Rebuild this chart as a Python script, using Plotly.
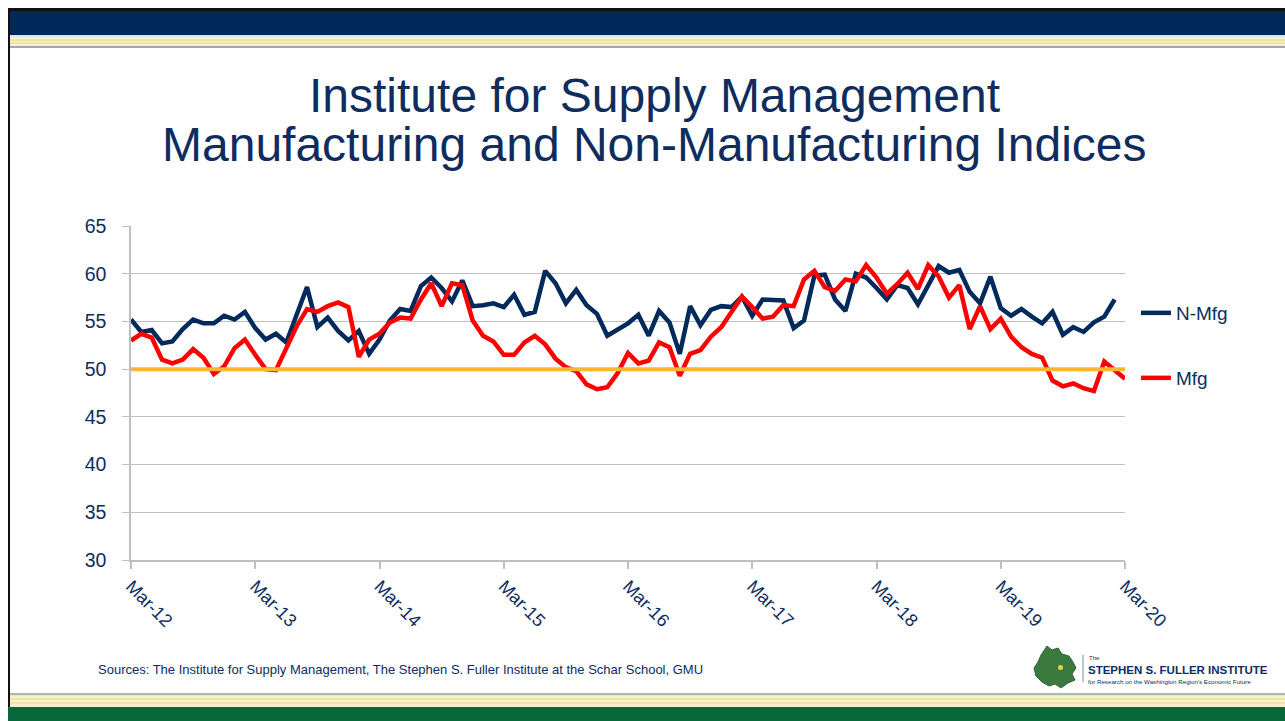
import plotly.graph_objects as go
import pandas as pd

# ---------------- data ----------------
months = list(pd.period_range("2012-03", "2020-03", freq="M").strftime("%b-%y"))
tick_labels = ["Mar-12", "Mar-13", "Mar-14", "Mar-15", "Mar-16", "Mar-17", "Mar-18", "Mar-19", "Mar-20"]

n_mfg = [55.2, 53.9, 54.1, 52.7, 52.9, 54.2, 55.2, 54.8, 54.8, 55.6, 55.2, 56.0,
         54.3, 53.1, 53.7, 52.8, 55.7, 58.6, 54.4, 55.4, 54.0, 53.0, 54.0, 51.6,
         53.1, 55.1, 56.3, 56.1, 58.7, 59.6, 58.5, 57.1, 59.3, 56.6, 56.7, 56.9,
         56.5, 57.8, 55.7, 56.0, 60.3, 59.0, 56.9, 58.3, 56.7, 55.8, 53.5, 54.2,
         54.8, 55.7, 53.5, 56.1, 54.9, 51.6, 56.6, 54.6, 56.2, 56.6, 56.5, 57.6,
         55.6, 57.3, 57.2, 57.2, 54.3, 55.1, 59.8, 59.9, 57.3, 56.1, 60.0, 59.6,
         58.5, 57.3, 58.8, 58.5, 56.8, 58.9, 60.8, 60.1, 60.4, 58.1, 56.9, 59.7,
         56.4, 55.6, 56.3, 55.5, 54.8, 56.0, 53.6, 54.4, 53.9, 54.9, 55.5, 57.3]

mfg = [53.0, 53.7, 53.3, 51.0, 50.6, 51.0, 52.1, 51.2, 49.5, 50.3, 52.2, 53.1,
       51.5, 50.0, 49.9, 52.2, 54.5, 56.3, 56.0, 56.6, 57.0, 56.5, 51.3, 53.1,
       53.7, 54.9, 55.4, 55.3, 57.3, 59.0, 56.6, 59.0, 58.8, 55.1, 53.5, 52.9,
       51.5, 51.5, 52.8, 53.5, 52.6, 51.1, 50.2, 49.8, 48.4, 47.9, 48.1, 49.6,
       51.7, 50.6, 50.9, 52.8, 52.3, 49.3, 51.6, 52.0, 53.4, 54.4, 56.0, 57.6,
       56.5, 55.3, 55.5, 56.7, 56.6, 59.4, 60.3, 58.6, 58.2, 59.4, 59.2, 60.9,
       59.6, 57.9, 58.9, 60.1, 58.4, 60.9, 59.7, 57.5, 58.8, 54.2, 56.6, 54.2,
       55.3, 53.4, 52.3, 51.6, 51.2, 48.8, 48.2, 48.5, 48.0, 47.7, 50.8, 49.9, 49.0]

threshold = [50.0] * len(months)

# ---------------- styling ----------------
NAVY = "#0E2D5E"
LINE_NAVY = "#002A5C"
RED = "#FF0000"
ORANGE = "#FFB533"
GRID = "#BFBFBF"
FONT = "Liberation Sans, Arial, sans-serif"

W, H = 1285, 721
L, R, T, B = 131, 1125, 226, 560  # plot area in pixels


def px(x):
    return (x - L) / (R - L)


def py(y):
    return (B - y) / (B - T)


fig = go.Figure()
fig.add_trace(go.Scatter(x=months[:len(n_mfg)], y=n_mfg, name="N-Mfg", mode="lines",
                         line=dict(color=LINE_NAVY, width=4.5), legend="legend"))
fig.add_trace(go.Scatter(x=months, y=mfg, name="Mfg", mode="lines",
                         line=dict(color=RED, width=4.5), legend="legend2"))
fig.add_trace(go.Scatter(x=months, y=threshold, name="50", mode="lines",
                         line=dict(color=ORANGE, width=4), showlegend=False))

shapes = []


def rect(x0, y0, x1, y1, color):
    shapes.append(dict(type="rect", xref="paper", yref="paper",
                       x0=px(x0), x1=px(x1), y0=py(y1), y1=py(y0),
                       fillcolor=color, line=dict(width=0), layer="below"))


# top banner
rect(8, 8, W, 11, "#111111")
rect(8, 11, W, 35, "#00285A")
rect(10, 35, W, 37, "#DCE3EA")
rect(10, 37, W, 46, "#F8F0C8")
rect(10, 39.5, W, 40.5, "#E6D38E")
rect(10, 42.5, W, 43.5, "#E6D38E")
rect(10, 46, W, 48, "#9EAAB2")
# left border
rect(8, 8, 10, 708, "#111111")
# bottom banner
rect(10, 693, W, 695.5, "#A8BCB0")
rect(10, 695.5, W, 707, "#F8F0C8")
rect(10, 698.5, W, 699.5, "#E6D38E")
rect(10, 702.5, W, 703.5, "#E6D38E")
rect(8, 707, W, H, "#07693A")

# logo map (approximate outline)
logo_pts = [(1047, 646), (1052, 650), (1058, 648), (1062, 654), (1069, 656), (1073, 662),
            (1076, 668), (1072, 674), (1075, 680), (1068, 683), (1061, 688), (1055, 684),
            (1049, 686), (1042, 682), (1036, 676), (1034, 668), (1038, 662), (1041, 655)]
path = "M " + " L ".join(f"{px(x):.5f},{py(y):.5f}" for x, y in logo_pts) + " Z"
shapes.append(dict(type="path", xref="paper", yref="paper", path=path,
                   fillcolor="#3B7A3F", line=dict(color="#2F6634", width=1)))
shapes.append(dict(type="circle", xref="paper", yref="paper",
                   x0=px(1058), x1=px(1063), y0=py(670), y1=py(665),
                   fillcolor="#E8D24A", line=dict(width=0)))
shapes.append(dict(type="line", xref="paper", yref="paper",
                   x0=px(1083), x1=px(1083), y0=py(682), y1=py(655),
                   line=dict(color="#7F8C99", width=1)))

annotations = [
    dict(text="Institute for Supply Management", x=px(654), y=py(95), xref="paper", yref="paper",
         xanchor="center", yanchor="middle", showarrow=False,
         font=dict(family=FONT, size=48, color=NAVY)),
    dict(text="Manufacturing and Non-Manufacturing Indices", x=px(654), y=py(145), xref="paper",
         yref="paper", xanchor="center", yanchor="middle", showarrow=False,
         font=dict(family=FONT, size=48, color=NAVY)),
    dict(text="Sources: The Institute for Supply Management, The Stephen S. Fuller Institute at the Schar School, GMU",
         x=px(96), y=py(669), xref="paper", yref="paper", xanchor="left", yanchor="middle",
         showarrow=False, font=dict(family=FONT, size=13, color=NAVY)),
    dict(text="The", x=px(1087), y=py(658), xref="paper", yref="paper", xanchor="left",
         yanchor="middle", showarrow=False, font=dict(family=FONT, size=6, color=NAVY)),
    dict(text="<b>STEPHEN S. FULLER INSTITUTE</b>", x=px(1086), y=py(669.5), xref="paper", yref="paper",
         xanchor="left", yanchor="middle", showarrow=False,
         font=dict(family=FONT, size=11.5, color=NAVY)),
    dict(text="for Research on the Washington Region's Economic Future", x=px(1086), y=py(681),
         xref="paper", yref="paper", xanchor="left", yanchor="middle", showarrow=False,
         font=dict(family=FONT, size=6.2, color=NAVY)),
]

fig.update_layout(
    width=W, height=H,
    margin=dict(l=L, r=W - R, t=T, b=H - B, pad=0),
    paper_bgcolor="white", plot_bgcolor="white",
    font=dict(family=FONT, color=NAVY),
    shapes=shapes, annotations=annotations,
    legend=dict(x=1.011, y=py(313), xanchor="left", yanchor="middle",
                font=dict(family=FONT, size=19, color=NAVY), bgcolor="rgba(0,0,0,0)"),
    legend2=dict(x=1.011, y=py(378), xanchor="left", yanchor="middle",
                 font=dict(family=FONT, size=19, color=NAVY), bgcolor="rgba(0,0,0,0)"),
    hovermode=False,
)

fig.update_xaxes(type="category", range=[0, len(months) - 1],
                 tickmode="array", tickvals=tick_labels, ticktext=tick_labels,
                 tickangle=45, tickfont=dict(family=FONT, size=18, color=NAVY),
                 showgrid=False, showline=True, linecolor=GRID, linewidth=1.5,
                 ticks="outside", ticklen=7, tickcolor=GRID, tickwidth=1.5, zeroline=False)
fig.update_yaxes(range=[30, 65], dtick=5, tick0=30,
                 tickfont=dict(family=FONT, size=19.5, color=NAVY),
                 showgrid=True, gridcolor=GRID, gridwidth=1.2,
                 showline=True, linecolor=GRID, linewidth=1.5,
                 ticks="outside", ticklen=7, tickcolor=GRID, zeroline=False,
                 ticklabelstandoff=12)

fig.write_html("out.html", config={"displayModeBar": False},
               post_script="document.body.style.margin='0px';document.body.style.overflow='hidden';")
